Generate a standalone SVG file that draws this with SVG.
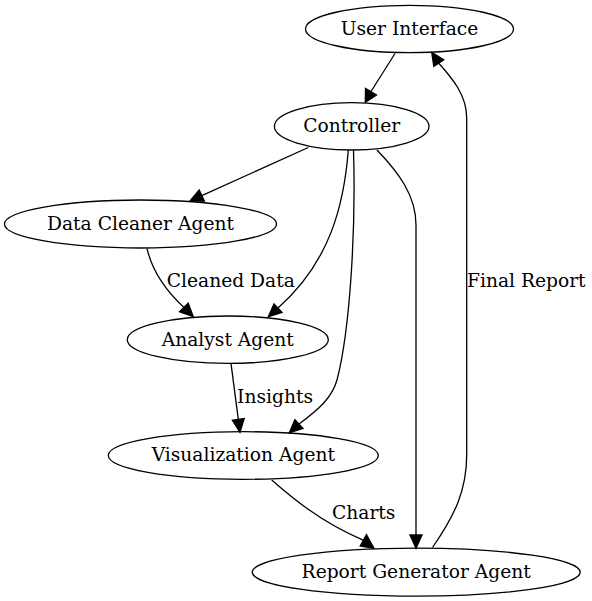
<svg xmlns="http://www.w3.org/2000/svg" width="592" height="601" viewBox="0 0 592 601">
<style>
.node ellipse{fill:none;stroke:#000;stroke-width:1.3}
text{font-family:"DejaVu Serif","Liberation Serif",serif;font-size:18.67px;fill:#000;text-anchor:middle}
.edge path{fill:none;stroke:#000;stroke-width:1.3}
.edge polygon{fill:#000;stroke:#000;stroke-width:1.3}
</style>
<rect width="592" height="601" fill="#fff"/>
<g id="edges" class="edge">
<path d="M395,53.5 L371,91.5"/>
<polygon points="365.3,102.3 365.5,88.5 376.5,95"/>
<path d="M308.3,147.5 L201.8,195.6"/>
<polygon points="190,201 199.2,190 204.4,201.2"/>
<path d="M147,248.5 C152,270 164,289 184,307.5"/>
<polygon points="193.3,316.7 179.5,311.8 188.2,303.2"/>
<path d="M348.3,150 C344,205 330,262 278,308"/>
<polygon points="268.3,316.7 274,303.8 282,312.4"/>
<path d="M353.5,150 C356,230 350,330 337,380 C332,398 318,410 299,424"/>
<polygon points="289.3,432.7 294.9,419.7 303,428.4"/>
<path d="M231,363.3 L238.3,419.4"/>
<polygon points="240,432.3 232.4,420.2 244.2,418.6"/>
<path d="M377,150 C398,172 416,195 416,225 L416,535"/>
<polygon points="416,548.3 410,535 422,535"/>
<path d="M271.7,480 C290,496 320,522 363.7,540.3"/>
<polygon points="374,548.3 360.2,546 366.5,534.6"/>
<path d="M432.5,547.5 C455,515 466.7,490 466.7,455 L466.7,118 C466.7,95 452,78 438.8,63.2"/>
<polygon points="431.7,52.3 443.8,59.8 433.8,66.5"/>
<text x="230.8" y="287">Cleaned Data</text>
<text x="275" y="402.7">Insights</text>
<text x="363.7" y="519">Charts</text>
<text x="526.3" y="286.7">Final Report</text>
</g>
<g id="ui" class="node"><ellipse cx="409.5" cy="29" rx="104" ry="23.7"/><text x="409.5" y="34.5">User Interface</text></g>
<g id="controller" class="node"><ellipse cx="351.7" cy="126.3" rx="77.3" ry="23.7"/><text x="351.7" y="132.3">Controller</text></g>
<g id="cleaner" class="node"><ellipse cx="140.5" cy="224" rx="136" ry="24"/><text x="140.5" y="229.7">Data Cleaner Agent</text></g>
<g id="analyst" class="node"><ellipse cx="227.8" cy="339.7" rx="100.5" ry="23.7"/><text x="227.8" y="345.5">Analyst Agent</text></g>
<g id="viz" class="node"><ellipse cx="243.3" cy="455.5" rx="135" ry="23.8"/><text x="243.3" y="461.3">Visualization Agent</text></g>
<g id="report" class="node"><ellipse cx="416.2" cy="572.2" rx="164" ry="24"/><text x="416.2" y="578">Report Generator Agent</text></g>
</svg>
